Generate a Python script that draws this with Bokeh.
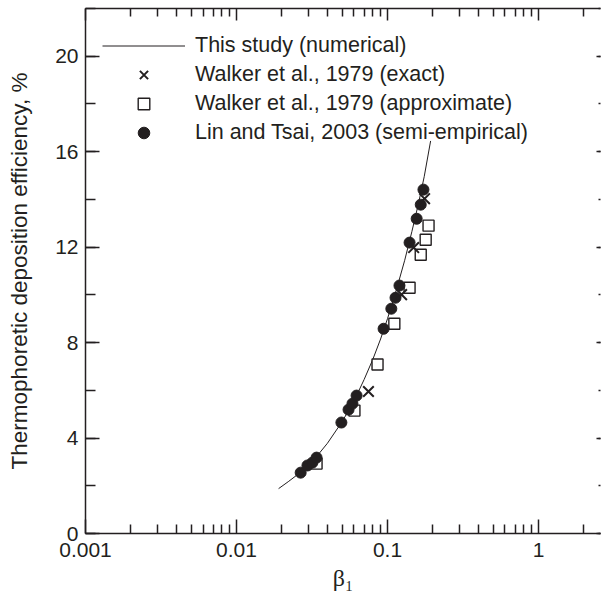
from bokeh.plotting import figure
from bokeh.models import (LogAxis, LinearAxis, FixedTicker, SingleIntervalTicker,
                          CustomJSTickFormatter, Legend, LegendItem, Range1d)
from bokeh.embed import file_html
from bokeh.resources import INLINE

# ---- data ----
curve_x = [0.019, 0.022, 0.026, 0.030, 0.035, 0.040, 0.050, 0.060, 0.070, 0.080,
           0.090, 0.100, 0.115, 0.130, 0.145, 0.160, 0.175, 0.193]
curve_y = [1.88, 2.17, 2.52, 2.90, 3.33, 3.78, 4.68, 5.55, 6.45, 7.30,
           8.15, 9.00, 10.25, 11.45, 12.65, 13.80, 14.95, 16.45]

exact_x = [0.0748, 0.124, 0.149, 0.176]
exact_y = [5.95, 10.01, 11.98, 14.03]

approx_x = [0.0339, 0.0604, 0.0859, 0.111, 0.140, 0.166, 0.179, 0.187]
approx_y = [2.93, 5.15, 7.08, 8.79, 10.30, 11.68, 12.31, 12.90]

lin_x = [0.0266, 0.0295, 0.0318, 0.0339, 0.0495, 0.0552, 0.0586, 0.0624,
         0.0942, 0.106, 0.113, 0.120, 0.140, 0.156, 0.166, 0.173]
lin_y = [2.55, 2.85, 2.97, 3.18, 4.65, 5.19, 5.44, 5.78,
         8.58, 9.42, 9.88, 10.39, 12.19, 13.19, 13.78, 14.41]

x_major = [0.001, 0.01, 0.1, 1]
x_minor = [0.002, 0.003, 0.004, 0.005, 0.006, 0.007, 0.008, 0.009,
           0.02, 0.03, 0.04, 0.05, 0.06, 0.07, 0.08, 0.09,
           0.2, 0.3, 0.4, 0.5, 0.6, 0.7, 0.8, 0.9, 2]

legend_labels = ["This study (numerical)",
                 "Walker et al., 1979 (exact)",
                 "Walker et al., 1979 (approximate)",
                 "Lin and Tsai, 2003 (semi-empirical)"]
x_label = "β\u2081"
y_label = "Thermophoretic deposition efficiency, %"

INK = "#231f20"
SANS = "Liberation Sans"

p = figure(width=601, height=597, x_axis_type="log",
           x_range=Range1d(0.001, 2.574), y_range=Range1d(0, 22),
           output_backend="svg", toolbar_location=None,
           min_border_left=85, min_border_right=1, min_border_top=8,
           min_border_bottom=64)
p.outline_line_color = None
p.xgrid.visible = False
p.ygrid.visible = False
p.background_fill_color = "white"
p.border_fill_color = "white"


def style(ax, major_in, minor_in, show_line=True):
    ax.axis_line_color = INK if show_line else None
    ax.axis_line_width = 1.5
    ax.major_tick_in = major_in
    ax.major_tick_out = 0
    ax.minor_tick_in = minor_in
    ax.minor_tick_out = 0
    ax.major_tick_line_color = INK
    ax.minor_tick_line_color = INK
    ax.major_tick_line_width = 1.5
    ax.minor_tick_line_width = 1.5
    ax.major_label_text_color = INK
    ax.major_label_text_font = SANS
    ax.major_label_text_font_size = "21px"


xfmt = CustomJSTickFormatter(code="return tick.toString();")
blank = CustomJSTickFormatter(code="return '';")

xa = p.xaxis[0]
xa.ticker = FixedTicker(ticks=x_major, minor_ticks=x_minor)
xa.formatter = xfmt
style(xa, 14, 9)
xa.major_label_standoff = 9
xa.axis_label = x_label
xa.axis_label_text_font = "Liberation Serif"
xa.axis_label_text_font_size = "24px"
xa.axis_label_text_font_style = "normal"
xa.axis_label_text_color = INK
xa.axis_label_standoff = 5

ya = p.yaxis[0]
ya.ticker = SingleIntervalTicker(interval=4, num_minor_ticks=2)
style(ya, 14, 10)
ya.major_label_standoff = 7
ya.axis_label = y_label
ya.axis_label_text_font = SANS
ya.axis_label_text_font_size = "22.5px"
ya.axis_label_text_font_style = "normal"
ya.axis_label_text_color = INK
ya.axis_label_standoff = 20

top = LogAxis(ticker=FixedTicker(ticks=x_major, minor_ticks=x_minor), formatter=blank)
style(top, 12, 8)
top.major_label_text_font_size = "1px"
top.major_label_standoff = 0
p.add_layout(top, "above")

right = LinearAxis(ticker=SingleIntervalTicker(interval=4, num_minor_ticks=2), formatter=blank)
style(right, 4, 2, show_line=False)
right.major_label_text_font_size = "1px"
right.major_label_standoff = 0
p.add_layout(right, "right")

# ---- glyphs ----
r_line = p.line(curve_x, curve_y, line_color=INK, line_width=1)
r_sq = p.scatter(approx_x, approx_y, marker="square", size=11, fill_color="white",
                 line_color=INK, line_width=1.4)
r_ci = p.scatter(lin_x, lin_y, marker="circle", size=11, fill_color=INK,
                 line_color=INK, line_width=1)
r_x = p.scatter(exact_x, exact_y, marker="x", size=15, line_color=INK, line_width=2)

legend = Legend(items=[LegendItem(label=legend_labels[0], renderers=[r_line]),
                       LegendItem(label=legend_labels[1], renderers=[r_x]),
                       LegendItem(label=legend_labels[2], renderers=[r_sq]),
                       LegendItem(label=legend_labels[3], renderers=[r_ci])],
                location=(17, 386), padding=0, margin=0, spacing=0,
                glyph_width=83, glyph_height=29, label_height=29,
                label_standoff=10, label_text_font=SANS,
                label_text_font_size="21.5px", label_text_color=INK,
                label_text_baseline="middle",
                background_fill_alpha=0, border_line_alpha=0)
p.add_layout(legend)

open("out.html", "w").write(file_html(p, INLINE))
